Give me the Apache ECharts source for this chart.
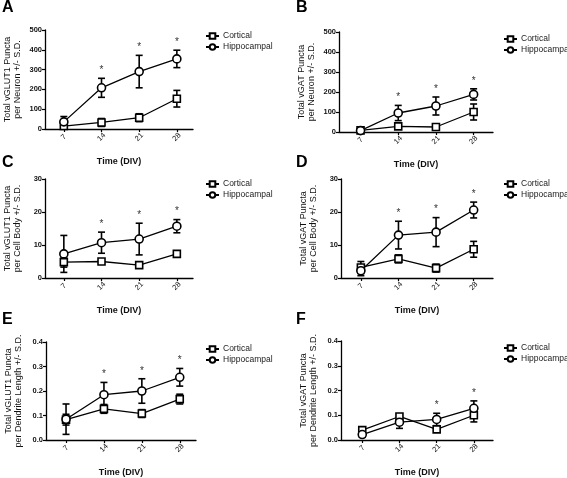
<!DOCTYPE html>
<html><head><meta charset="utf-8">
<script src="https://cdn.jsdelivr.net/npm/echarts@6/dist/echarts.min.js"></script>
<style>html,body{margin:0;padding:0;background:#fff}#c{width:567px;height:478px}</style>
</head><body><div id="c"></div>
<script>
// ---- data ----
const days = [7, 14, 21, 28];
const seriesNames = ['Cortical', 'Hippocampal'];
// A: vGLUT1 per neuron
const vglutNeuronCort = [15, 33, 57, 153];
const vglutNeuronCortSd = [10, 20, 20, 42];
const vglutNeuronHipp = [36, 208, 290, 354];
const vglutNeuronHippSd = [27, 48, 82, 44];
const sigA = [0, 1, 1, 1];
// B: vGAT per neuron
const vgatNeuronCort = [8, 28, 25, 100];
const vgatNeuronCortSd = [4, 12, 8, 40];
const vgatNeuronHipp = [7, 95, 130, 188];
const vgatNeuronHippSd = [4, 38, 45, 28];
const sigB = [0, 1, 1, 1];
// C: vGLUT1 per cell body
const vglutBodyCort = [4.8, 5.0, 3.9, 7.3];
const vglutBodyCortSd = [1.5, 0.4, 0.5, 0.4];
const vglutBodyHipp = [7.3, 10.7, 11.8, 15.7];
const vglutBodyHippSd = [5.6, 3.2, 4.8, 2.0];
const sigC = [0, 1, 1, 1];
// D: vGAT per cell body
const vgatBodyCort = [3.2, 5.8, 3.0, 8.7];
const vgatBodyCortSd = [1.8, 1.2, 1.2, 2.4];
const vgatBodyHipp = [2.2, 13.0, 13.9, 20.6];
const vgatBodyHippSd = [1.5, 4.2, 4.4, 2.4];
const sigD = [0, 1, 1, 1];
// E: vGLUT1 per dendrite length
const vglutDendCort = [0.083, 0.127, 0.108, 0.167];
const vglutDendCortSd = [0.022, 0.018, 0.016, 0.02];
const vglutDendHipp = [0.085, 0.185, 0.200, 0.256];
const vglutDendHippSd = [0.062, 0.05, 0.05, 0.036];
const sigE = [0, 1, 1, 1];
// F: vGAT per dendrite length
const vgatDendCort = [0.04, 0.095, 0.043, 0.100];
const vgatDendCortSd = [0.01, 0.01, 0.01, 0.027];
const vgatDendHipp = [0.022, 0.072, 0.083, 0.128];
const vgatDendHippSd = [0.01, 0.025, 0.025, 0.03];
const sigF = [0, 0, 1, 1];
// tick labels / axis text
const xTickValues = [7, 14, 21, 28];
const xAxisTitle = 'Time (DIV)';
const yNames = {
  A: 'Total vGLUT1 Puncta\nper Neuron +/- S.D.',
  B: 'Total vGAT Puncta\nper Neuron +/- S.D.',
  C: 'Total vGLUT1 Puncta\nper Cell Body +/- S.D.',
  D: 'Total vGAT Puncta\nper Cell Body +/- S.D.',
  E: 'Total vGLUT1 Puncta\nper Dendrite Length +/- S.D.',
  F: 'Total vGAT Puncta\nper Dendrite Length +/- S.D.'
};

// ---- layout ----
const FONT = 'Liberation Sans, Arial, sans-serif';
const panels = [
  {k:'A', c:vglutNeuronCort, cs:vglutNeuronCortSd, h:vglutNeuronHipp, hs:vglutNeuronHippSd, sig:sigA, yMax:500, yInt:100, dec:0,
   grid:{left:45, top:30, width:148, height:99}, xMin:3.5, xMax:31, leg:{left:205, top:31.5}, let:{left:2, top:0}},
  {k:'B', c:vgatNeuronCort, cs:vgatNeuronCortSd, h:vgatNeuronHipp, hs:vgatNeuronHippSd, sig:sigB, yMax:500, yInt:100, dec:0,
   grid:{left:339, top:32, width:154, height:100}, xMin:3.0, xMax:31.6, leg:{left:503, top:34.5}, let:{left:296, top:0}},
  {k:'C', c:vglutBodyCort, cs:vglutBodyCortSd, h:vglutBodyHipp, hs:vglutBodyHippSd, sig:sigC, yMax:30, yInt:10, dec:0,
   grid:{left:45, top:179, width:148, height:99}, xMin:3.5, xMax:31, leg:{left:205, top:179.5}, let:{left:2, top:155}},
  {k:'D', c:vgatBodyCort, cs:vgatBodyCortSd, h:vgatBodyHipp, hs:vgatBodyHippSd, sig:sigD, yMax:30, yInt:10, dec:0,
   grid:{left:341, top:179, width:152, height:99}, xMin:3.3, xMax:31.6, leg:{left:503, top:179.5}, let:{left:296, top:155}},
  {k:'E', c:vglutDendCort, cs:vglutDendCortSd, h:vglutDendHipp, hs:vglutDendHippSd, sig:sigE, yMax:0.4, yInt:0.1, dec:1,
   grid:{left:46, top:342, width:150, height:100}, xMin:3.3, xMax:31, leg:{left:205, top:344.5}, let:{left:2, top:312}},
  {k:'F', c:vgatDendCort, cs:vgatDendCortSd, h:vgatDendHipp, hs:vgatDendHippSd, sig:sigF, yMax:0.4, yInt:0.1, dec:1,
   grid:{left:341, top:341, width:152, height:101}, xMin:3.0, xMax:31.6, leg:{left:503, top:343.5}, let:{left:296, top:312}}
];

const grids = [], xAxes = [], yAxes = [], series = [], legends = [], titles = [];
const axisLine = {show:true, lineStyle:{color:'#000', width:1.3}};
const axisTick = {show:true, inside:false, length:3, lineStyle:{color:'#000', width:1.2}};

function errRender(params, api) {
  const x = api.value(0), m = api.value(1), s = api.value(2);
  const t = api.coord([x, m + s]), b = api.coord([x, m - s]);
  const hw = 3.5;
  const st = {stroke:'#000', lineWidth:1.6};
  return {type:'group', children:[
    {type:'line', shape:{x1:t[0], y1:t[1], x2:b[0], y2:b[1]}, style:st},
    {type:'line', shape:{x1:t[0]-hw, y1:t[1], x2:t[0]+hw, y2:t[1]}, style:st},
    {type:'line', shape:{x1:b[0]-hw, y1:b[1], x2:b[0]+hw, y2:b[1]}, style:st}
  ]};
}
function starRender(params, api) {
  const p = api.coord([api.value(0), api.value(1)]);
  return {type:'text', x:p[0], y:p[1] - 3, style:{text:'*', fill:'#333', font:'10px ' + FONT, textAlign:'center', textVerticalAlign:'bottom'}};
}

panels.forEach((p, i) => {
  grids.push(Object.assign({containLabel:false}, p.grid));
  xAxes.push({type:'value', gridIndex:i, min:p.xMin, max:p.xMax,
    name:xAxisTitle, nameLocation:'middle', nameGap:28,
    nameTextStyle:{fontFamily:FONT, fontSize:9, color:'#111', fontWeight:'bold'},
    axisLine:axisLine, splitLine:{show:false},
    axisTick:Object.assign({customValues:xTickValues}, axisTick),
    axisLabel:{customValues:xTickValues, rotate:45, align:'center', verticalAlign:'middle',
      fontFamily:FONT, fontSize:7.5, color:'#111', margin:8}
  });
  yAxes.push({type:'value', gridIndex:i, min:0, max:p.yMax, interval:p.yInt,
    name:yNames[p.k], nameLocation:'middle', nameGap:22,
    nameTextStyle:{fontFamily:FONT, fontSize:9, color:'#111', lineHeight:10},
    axisLine:axisLine, axisTick:axisTick, splitLine:{show:false},
    axisLabel:{fontFamily:FONT, fontSize:7.5, fontWeight:'bold', color:'#111', margin:3,
      formatter: v => Number(v).toFixed(p.dec)}
  });
  const groups = [[seriesNames[0], p.c, p.cs, 'rect'], [seriesNames[1], p.h, p.hs, 'circle']];
  groups.forEach(g => {
    series.push({type:'custom', xAxisIndex:i, yAxisIndex:i, z:1, silent:true,
      renderItem:errRender, encode:{x:0, y:1},
      data: days.map((d, j) => [d, g[1][j], g[2][j]])});
  });
  groups.forEach(g => {
    series.push({type:'line', name:g[0], xAxisIndex:i, yAxisIndex:i, z:3,
      symbol:g[3], symbolSize:g[3]==='rect'?7:8, showSymbol:true,
      lineStyle:{color:'#000', width:1.3},
      itemStyle:{color:'#fff', borderColor:'#000', borderWidth:1.6},
      data: days.map((d, j) => [d, g[1][j]])});
  });
  series.push({type:'custom', xAxisIndex:i, yAxisIndex:i, z:4, silent:true,
    renderItem:starRender, encode:{x:0, y:1},
    data: days.map((d, j) => [d, p.h[j] + p.hs[j], p.sig[j]]).filter(r => r[2] === 1)});
  legends.push({orient:'vertical', left:p.leg.left, top:p.leg.top, padding:0, itemGap:2, itemWidth:13, itemHeight:7,
    data:seriesNames, selectedMode:false,
    textStyle:{fontFamily:FONT, fontSize:8.5, color:'#222', padding:[0,0,0,-1]}});
  titles.push({text:p.k, left:p.let.left, top:p.let.top, padding:0,
    textStyle:{fontFamily:FONT, fontSize:16, fontWeight:'bold', color:'#000'}});
});

const chart = echarts.init(document.getElementById('c'), null, {renderer:'canvas'});
chart.setOption({
  backgroundColor:'#fff', animation:false,
  title:titles, legend:legends, grid:grids, xAxis:xAxes, yAxis:yAxes, series:series
});
</script></body></html>
